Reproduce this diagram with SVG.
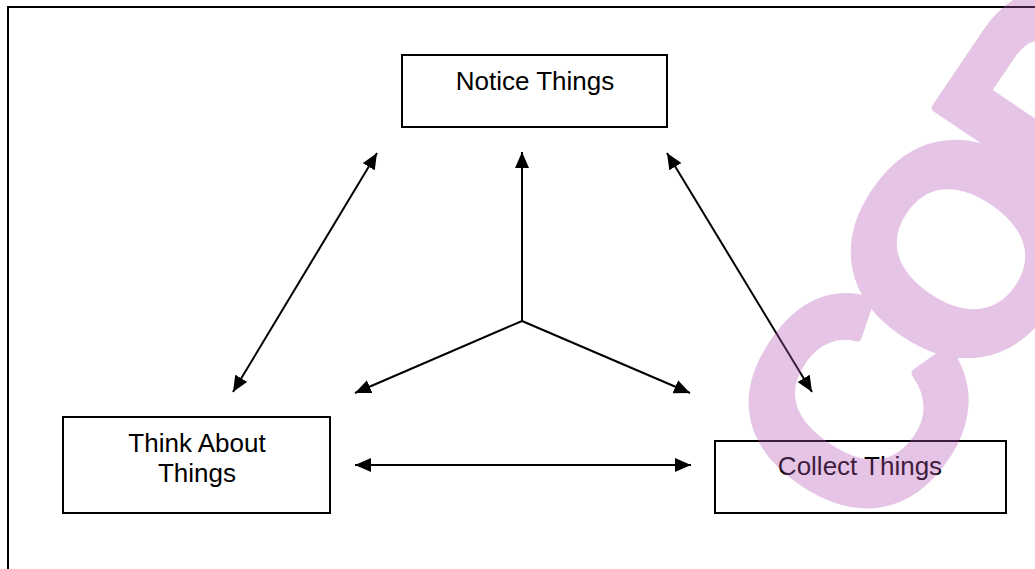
<svg xmlns="http://www.w3.org/2000/svg" width="1035" height="569" viewBox="0 0 1035 569">
  <style>
    .box { fill: #ffffff; stroke: #000000; stroke-width: 2; }
    .label { font-family: "Liberation Sans", Arial, sans-serif; font-size: 26px; fill: #000000; text-anchor: middle; }
    .link { fill: none; stroke: #000000; stroke-width: 2; marker-end: url(#head); }
    .both { marker-start: url(#head); }
    .mark { font-family: "Liberation Sans", Arial, sans-serif; font-weight: bold; font-size: 290px; letter-spacing: -29px; fill: #b456b4; stroke: #b456b4; stroke-width: 9; stroke-linejoin: round; }
  </style>
  <defs>
    <marker id="head" markerUnits="userSpaceOnUse" markerWidth="16" markerHeight="14" refX="16" refY="7" orient="auto-start-reverse">
      <path d="M0,0 L16,7 L0,14 Z" fill="#000000"/>
    </marker>
  </defs>

  <rect width="1035" height="569" fill="#ffffff"/>

  <!-- page frame, running off the right and bottom edges -->
  <rect x="8" y="7" width="1060" height="600" fill="none" stroke="#000000" stroke-width="2"/>

  <g id="node-notice">
    <rect class="box" x="402" y="55" width="265" height="72"/>
    <text class="label" x="535" y="90">Notice Things</text>
  </g>

  <g id="node-think">
    <rect class="box" x="63" y="417" width="267" height="96"/>
    <text class="label" x="197" y="452">Think About</text>
    <text class="label" x="197" y="482">Things</text>
  </g>

  <g id="node-collect">
    <rect class="box" x="715" y="441" width="291" height="72"/>
    <text class="label" x="860" y="475">Collect Things</text>
  </g>

  <g id="connectors">
    <line class="link both" x1="233" y1="392" x2="377" y2="153"/>
    <line class="link both" x1="812" y1="392" x2="667" y2="153"/>
    <line class="link both" x1="355" y1="465" x2="691" y2="465"/>
    <line class="link" x1="522" y1="321" x2="522" y2="152"/>
    <line class="link" x1="522" y1="321" x2="355" y2="393"/>
    <line class="link" x1="522" y1="321" x2="690" y2="393"/>
  </g>

  <!-- diagonal stamp laid over the page -->
  <g opacity="0.34">
    <text class="mark" transform="translate(880 548) rotate(-56)">COP</text>
  </g>
</svg>
